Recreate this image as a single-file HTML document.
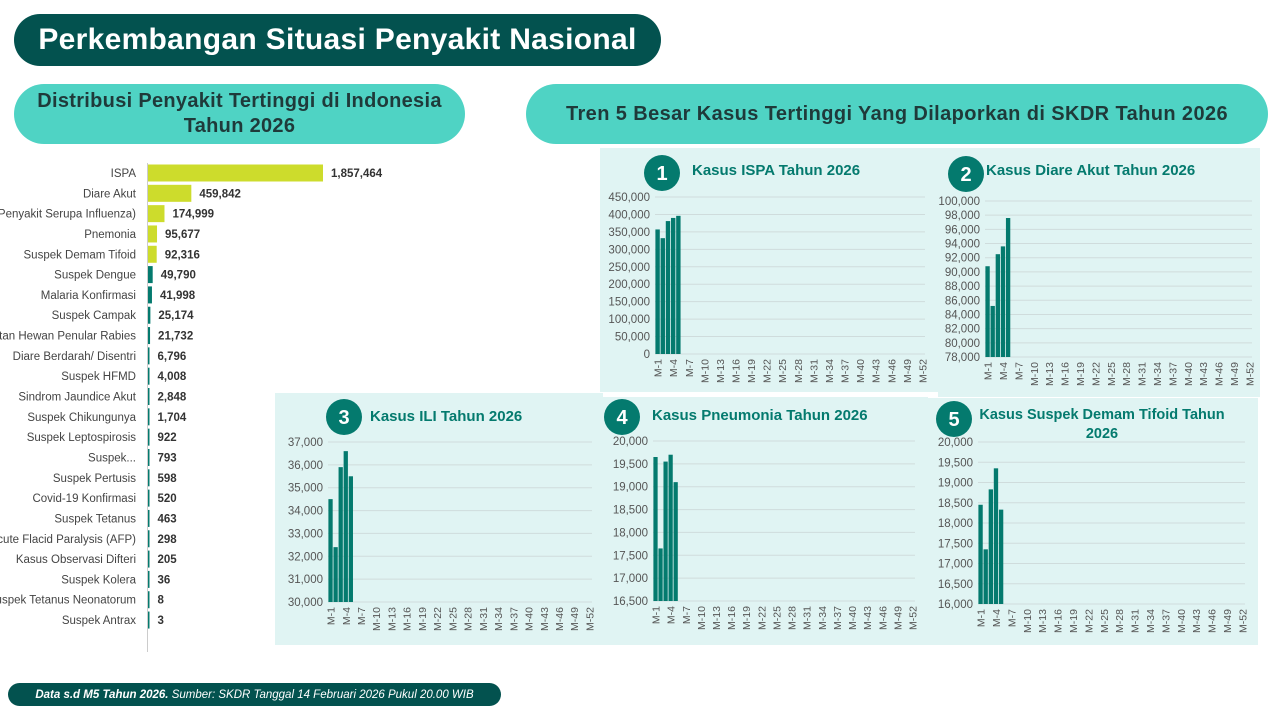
<!DOCTYPE html>
<html><head><meta charset="utf-8">
<style>
body{margin:0;width:1280px;height:720px;background:#fff;position:relative;overflow:hidden;font-family:"Liberation Sans","DejaVu Sans",sans-serif}
.pill{position:absolute;display:flex;align-items:center;justify-content:center;text-align:center;font-weight:bold}
svg{position:absolute;left:0;top:0}
</style></head><body>
<div class="pill" style="left:14px;top:14px;width:647px;height:52px;background:#03524f;border-radius:26px;color:#fff;font-size:30px;letter-spacing:0.3px">Perkembangan Situasi Penyakit Nasional</div>
<div class="pill" style="left:14px;top:84px;width:451px;height:60px;background:#4fd3c4;border-radius:30px;color:#1f3a3a;font-size:20px;line-height:25px;letter-spacing:0.3px">Distribusi Penyakit Tertinggi di Indonesia<br>Tahun 2026</div>
<div class="pill" style="left:526px;top:84px;width:742px;height:60px;background:#4fd3c4;border-radius:30px;color:#1f3a3a;font-size:20px;letter-spacing:0.4px">Tren 5 Besar Kasus Tertinggi Yang Dilaporkan di SKDR Tahun 2026</div>
<div class="pill" style="left:8px;top:683px;width:493px;height:23px;background:#03524f;border-radius:12px;color:#fff;font-size:11.5px;font-style:italic;font-weight:normal;"><span><b>Data s.d M5 Tahun 2026.</b> Sumber: SKDR Tanggal 14 Februari 2026 Pukul 20.00 WIB</span></div>
<svg id="s" width="1280" height="720" xmlns="http://www.w3.org/2000/svg"></svg>
<script>
var s='';
s+='<rect x="600" y="148" width="338" height="244" fill="#e0f4f3"/>';
s+='<rect x="938" y="148" width="322" height="249" fill="#e0f4f3"/>';
s+='<rect x="275" y="393" width="328" height="252" fill="#e0f4f3"/>';
s+='<rect x="603" y="397" width="325" height="248" fill="#e0f4f3"/>';
s+='<rect x="928" y="398" width="330" height="247" fill="#e0f4f3"/>';
var d=[["ISPA",1857464],["Diare Akut",459842],["ILI (Penyakit Serupa Influenza)",174999],["Pnemonia",95677],["Suspek Demam Tifoid",92316],["Suspek Dengue",49790],["Malaria Konfirmasi",41998],["Suspek Campak",25174],["Gigitan Hewan Penular Rabies",21732],["Diare Berdarah/ Disentri",6796],["Suspek HFMD",4008],["Sindrom Jaundice Akut",2848],["Suspek Chikungunya",1704],["Suspek Leptospirosis",922],["Suspek...",793],["Suspek Pertusis",598],["Covid-19 Konfirmasi",520],["Suspek Tetanus",463],["Acute Flacid Paralysis (AFP)",298],["Kasus Observasi Difteri",205],["Suspek Kolera",36],["Suspek Tetanus Neonatorum",8],["Suspek Antrax",3]];
s+='<line x1="147.5" y1="163" x2="147.5" y2="652" stroke="#ccc"/>';
d.forEach(function(r,i){var y=173+i*20.32;var w=Math.max(r[1]/1857464*175,1.5);
s+='<rect x="148" y="'+(y-8.5)+'" width="'+w+'" height="17" fill="'+(i<5?'#cddc2c':'#047a6e')+'"/>';
s+='<text x="136" y="'+(y+4)+'" text-anchor="end" font-size="11.5" fill="#444">'+r[0]+'</text>';
s+='<text x="'+(148+w+8)+'" y="'+(y+4)+'" font-size="11.5" font-weight="bold" fill="#333">'+r[1].toLocaleString('en-US')+'</text>';});
function fmt(v){return v.toLocaleString('en-US');}
function chart(o){
 var n=(o.max-o.min)/o.step;
 for(var k=0;k<=n;k++){var v=o.min+k*o.step;var y=o.yb-(o.yb-o.yt)*k/n;
  s+='<line x1="'+o.x0+'" y1="'+y+'" x2="'+o.x1+'" y2="'+y+'" stroke="#cfdcdc"/>';
  s+='<text x="'+(o.x0-5)+'" y="'+(y+4)+'" text-anchor="end" font-size="11.5" fill="#555">'+fmt(v)+'</text>';}
 var cw=(o.x1-o.x0)/52;
 o.v.forEach(function(v,i){var h=(v-o.min)/(o.max-o.min)*(o.yb-o.yt);
  s+='<rect x="'+(o.x0+i*cw+0.4)+'" y="'+(o.yb-h)+'" width="'+(cw-0.8)+'" height="'+h+'" fill="#047a6e"/>';});
 for(var i=0;i<52;i+=3){var x=o.x0+(i+0.5)*cw+4;
  s+='<text transform="translate('+x+','+(o.yb+5)+') rotate(-90)" text-anchor="end" font-size="10.5" fill="#555">M-'+(i+1)+'</text>';}
 s+='<circle cx="'+o.cx+'" cy="'+o.cy+'" r="18" fill="#047a6e"/><text x="'+o.cx+'" y="'+(o.cy+7)+'" text-anchor="middle" font-size="20" font-weight="bold" fill="#fff">'+o.num+'</text>';
 o.t.forEach(function(t,j){s+='<text x="'+o.tx+'" y="'+(o.ty+j*19)+'" text-anchor="'+(o.ta||'start')+'" font-size="'+(o.fs||15)+'" font-weight="bold" fill="#047a6e">'+t+'</text>';});
}
chart({x0:655,x1:925,yt:197,yb:354,min:0,max:450000,step:50000,v:[357000,332000,381000,390000,396000],cx:662,cy:173,num:1,t:["Kasus ISPA Tahun 2026"],tx:692,ty:175});
chart({x0:985,x1:1252,yt:201,yb:357,min:78000,max:100000,step:2000,v:[90800,85200,92500,93600,97600],cx:966,cy:174,num:2,t:["Kasus Diare Akut Tahun 2026"],tx:986,ty:175});
chart({x0:328,x1:592,yt:442,yb:602,min:30000,max:37000,step:1000,v:[34500,32400,35900,36600,35500],cx:344,cy:417,num:3,t:["Kasus ILI Tahun 2026"],tx:370,ty:421});
chart({x0:653,x1:915,yt:441,yb:601,min:16500,max:20000,step:500,v:[19650,17650,19550,19700,19100],cx:622,cy:417,num:4,t:["Kasus Pneumonia Tahun 2026"],tx:652,ty:420});
chart({x0:978,x1:1245,yt:442,yb:604,min:16000,max:20000,step:500,v:[18450,17350,18830,19350,18330],cx:954,cy:419,num:5,t:["Kasus Suspek Demam Tifoid Tahun","2026"],tx:1102,ty:419,ta:"middle",fs:14.5});
document.getElementById('s').innerHTML=s;
</script>
</body></html>
